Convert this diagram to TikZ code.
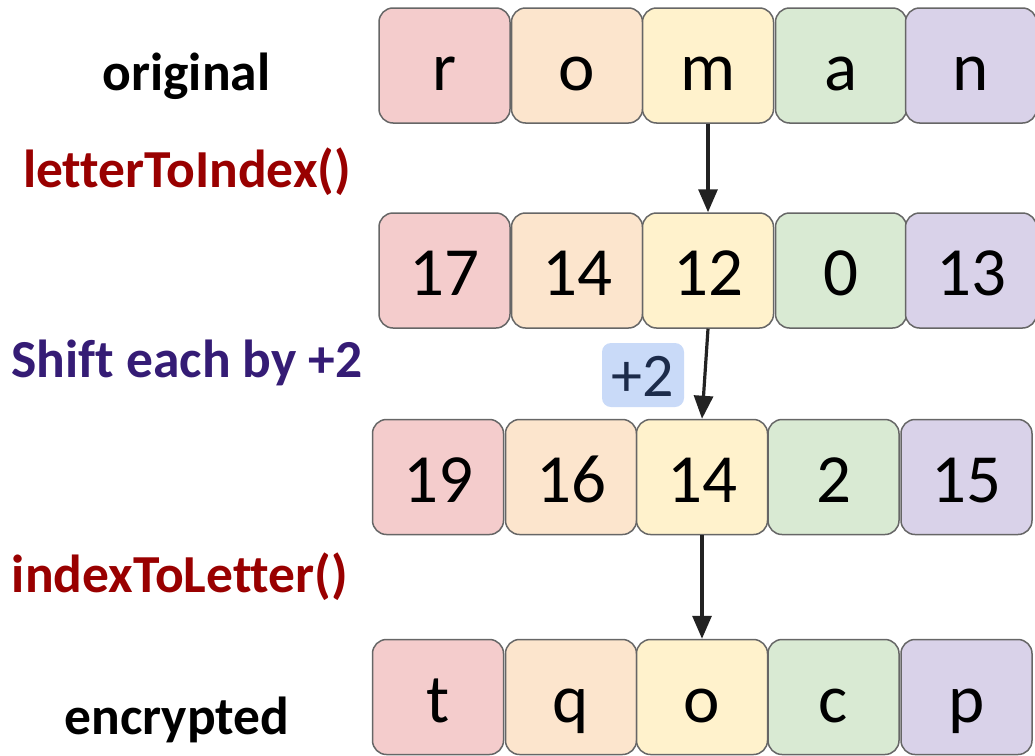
\documentclass[tikz,border=0pt]{standalone}
\usepackage{fontspec}
\setmainfont{Carlito}[Ligatures=NoCommon]
\usetikzlibrary{arrows.meta}
\definecolor{cR}{HTML}{F4CCCC}
\definecolor{cO}{HTML}{FCE5CD}
\definecolor{cY}{HTML}{FFF2CC}
\definecolor{cG}{HTML}{D9EAD3}
\definecolor{cP}{HTML}{D9D2E9}
\definecolor{cBorder}{HTML}{666666}
\definecolor{cArrow}{HTML}{222222}
\definecolor{cFunc}{HTML}{990000}
\definecolor{cShift}{HTML}{351C75}
\definecolor{cPlusFill}{HTML}{C9DAF8}
\definecolor{cPlusText}{HTML}{1C2B4A}
\begin{document}
\begin{tikzpicture}[x=1pt,y=-1pt,
  cell/.style={draw=cBorder, line width=1.5pt, rounded corners=14pt,
    minimum width=131pt, minimum height=115pt, inner sep=0pt,
    font=\fontsize{69}{72}\selectfont, text height=50pt, text depth=0pt},
  lbl/.style={font=\bfseries\fontsize{53.5}{58}\selectfont, anchor=base, inner sep=0pt},
  flow/.style={draw=cArrow, line width=3.2pt, -{Triangle[length=23pt,width=19pt]}},
  plusbox/.style={fill=cPlusFill, rounded corners=9pt, minimum width=82pt,
    minimum height=64pt, inner sep=0pt, text=cPlusText,
    font=\fontsize{62}{66}\selectfont, text height=42pt, text depth=0pt}
]
\useasboundingbox (0,0) rectangle (1035,755);
% row 1
\node[cell, fill=cR] (a1) at (444.5,65.5) {r};
\node[cell, fill=cO] (a2) at (577,65.5) {o};
\node[cell, fill=cY] (a3) at (708,65.5) {m};
\node[cell, fill=cG] (a4) at (841,65.5) {a};
\node[cell, fill=cP] (a5) at (971,65.5) {n};
% row 2
\node[cell, fill=cR] (b1) at (444.5,270.5) {17};
\node[cell, fill=cO] (b2) at (577,270.5) {14};
\node[cell, fill=cY] (b3) at (708,270.5) {12};
\node[cell, fill=cG] (b4) at (841,270.5) {0};
\node[cell, fill=cP] (b5) at (971,270.5) {13};
% row 3
\node[cell, fill=cR] (c1) at (438,477) {19};
\node[cell, fill=cO] (c2) at (571,477) {16};
\node[cell, fill=cY] (c3) at (702,477) {14};
\node[cell, fill=cG] (c4) at (833.5,477) {2};
\node[cell, fill=cP] (c5) at (966.5,477) {15};
% row 4
\node[cell, fill=cR] (d1) at (438,697) {t};
\node[cell, fill=cO] (d2) at (571,697) {q};
\node[cell, fill=cY] (d3) at (702,697) {o};
\node[cell, fill=cG] (d4) at (833.5,697) {c};
\node[cell, fill=cP] (d5) at (966.5,697) {p};
% plus box
\node[plusbox] (plus) at (643,375) {+2};
% arrows
\draw[flow] (a3.south) -- (b3.north);
\draw[flow] (b3.south) -- (c3.north);
\draw[flow] (c3.south) -- (d3.north);
% labels
\node[lbl] (lorig) at (186.5,90) {original};
\node[lbl, text=cFunc] (ll2i) at (187,187) {letterToIndex()};
\node[lbl, text=cShift] (lshift) at (187,377) {Shift each by +2};
\node[lbl, text=cFunc] (li2l) at (180,592) {indexToLetter()};
\node[lbl] (lenc) at (177,734) {encrypted};
\end{tikzpicture}
\end{document}
